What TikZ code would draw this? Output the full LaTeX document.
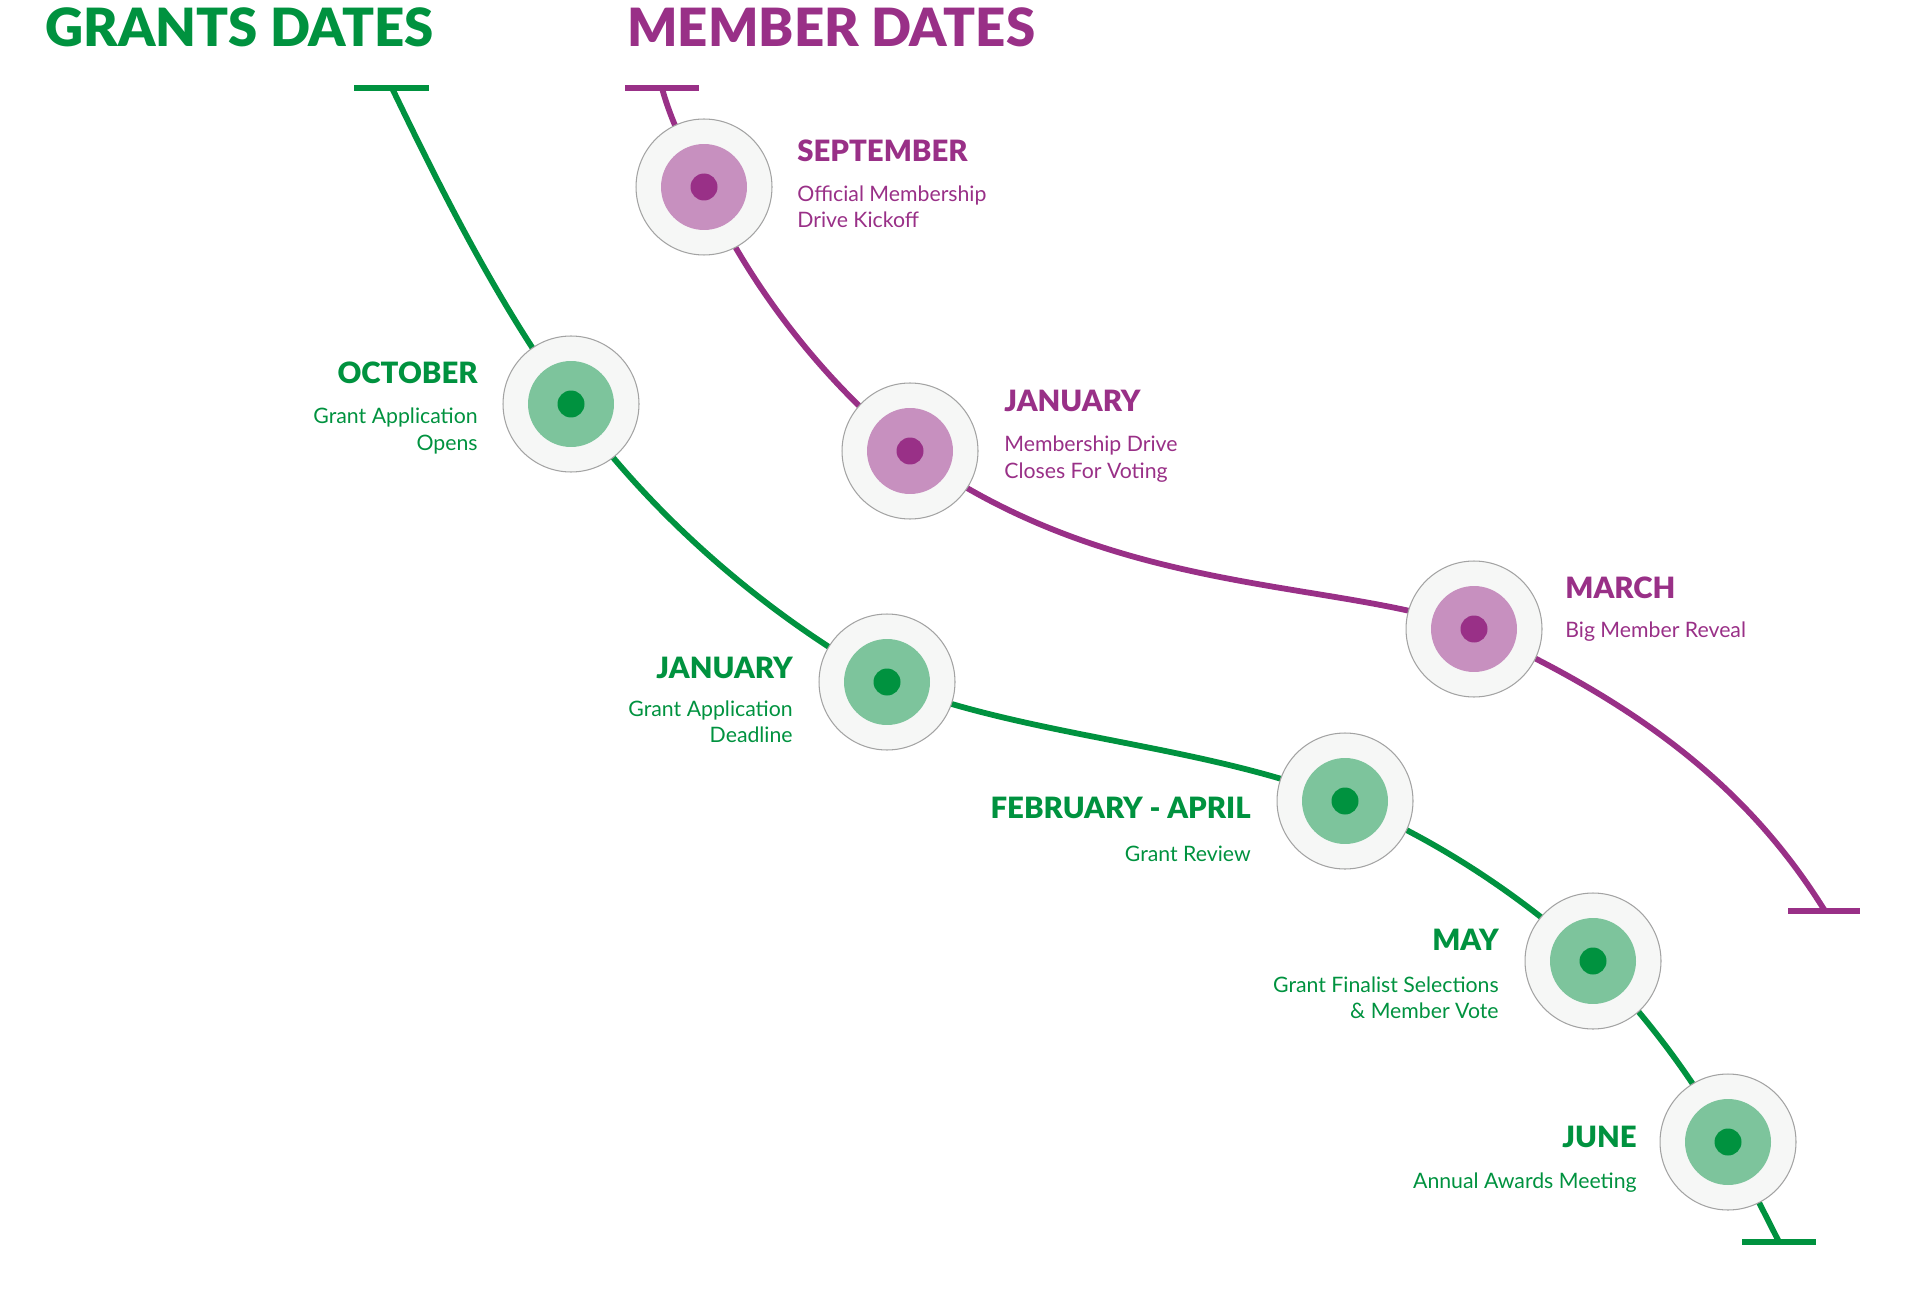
\documentclass[tikz,border=0pt]{standalone}
\usepackage{fontspec}
\setmainfont{Lato}
\newfontfamily\heavyfont{Lato Black}
\usetikzlibrary{backgrounds}
\definecolor{grantgreen}{HTML}{00923F}
\definecolor{grantmid}{HTML}{7DC49C}
\definecolor{memberpurple}{HTML}{993087}
\definecolor{membermid}{HTML}{C790BF}
\definecolor{ringfill}{HTML}{F6F7F6}
\definecolor{ringline}{HTML}{A3A3A3}

\begin{document}
\begin{tikzpicture}[x=0.02cm, y=-0.02cm,
  ring/.style={circle, draw=ringline, fill=ringfill, line width=0.6pt, minimum size=2.72cm, inner sep=0pt},
  headline/.style={font=\heavyfont\fontsize{30}{30}\selectfont, inner sep=0pt},
  mhead/.style={font=\heavyfont\fontsize{16.7}{16.7}\selectfont, inner sep=0pt},
  mbody/.style={font=\fontsize{12.1}{14.8}\selectfont, inner sep=0pt},
  track/.style={line width=3.3pt}]
\useasboundingbox (0,0) rectangle (1920,1307);

% titles
\node[headline, text=grantgreen, anchor=base west](granttitle) at (45,47) {GRANTS DATES};
\node[headline, text=memberpurple, anchor=base west](membertitle) at (627,47) {MEMBER DATES};

% track ends
\coordinate (gs) at (392,88);
\coordinate (ge) at (1779,1242);
\coordinate (ps) at (662,88);
\coordinate (pe) at (1825,911);

% date rings
\foreach \nm/\xy in {oct/{571,404}, jang/{887,682}, feb/{1345,801}, may/{1593,961}, june/{1728,1142}}
  {\node[ring](\nm) at (\xy) {};
   \fill[grantmid] (\nm) circle (0.86cm);
   \fill[grantgreen] (\nm) circle (0.27cm);}
\foreach \nm/\xy in {sept/{704,187}, janp/{910,451}, march/{1474,629}}
  {\node[ring](\nm) at (\xy) {};
   \fill[membermid] (\nm) circle (0.86cm);
   \fill[memberpurple] (\nm) circle (0.27cm);}

% grant labels (body nodes sit on their last line)
\node[mhead, text=grantgreen, anchor=base east](octhead) at (478,383) {OCTOBER};
\node[mbody, text=grantgreen, anchor=base east, align=right](octtext) at (478,450) {Grant Application\\Opens};
\node[mhead, text=grantgreen, anchor=base east](janghead) at (793,678) {JANUARY};
\node[mbody, text=grantgreen, anchor=base east, align=right](jangtext) at (793,742) {Grant Application\\Deadline};
\node[mhead, text=grantgreen, anchor=base east](febhead) at (1251,818) {FEBRUARY - APRIL};
\node[mbody, text=grantgreen, anchor=base east, align=right](febtext) at (1251,861) {Grant Review};
\node[mhead, text=grantgreen, anchor=base east](mayhead) at (1499,950) {MAY};
\node[mbody, text=grantgreen, anchor=base east, align=right](maytext) at (1499,1018) {Grant Finalist Selections\\\& Member Vote};
\node[mhead, text=grantgreen, anchor=base east](junehead) at (1637,1147) {JUNE};
\node[mbody, text=grantgreen, anchor=base east, align=right](junetext) at (1637,1188) {Annual Awards Meeting};

% member labels
\node[mhead, text=memberpurple, anchor=base west](septhead) at (797,162) {SEPTEMBER};
\node[mbody, text=memberpurple, anchor=base west, align=left](septtext) at (797,228) {Official Membership\\Drive Kickoff};
\node[mhead, text=memberpurple, anchor=base west](janphead) at (1004,412) {JANUARY};
\node[mbody, text=memberpurple, anchor=base west, align=left](janptext) at (1004,478) {Membership Drive\\Closes For Voting};
\node[mhead, text=memberpurple, anchor=base west](marchhead) at (1565,598) {MARCH};
\node[mbody, text=memberpurple, anchor=base west, align=left](marchtext) at (1565,637) {Big Member Reveal};

\begin{scope}[on background layer]
\draw[track, grantgreen] ([xshift=-0.76cm]gs) -- ([xshift=0.74cm]gs);
\draw[track, grantgreen] ([xshift=-0.74cm]ge) -- ([xshift=0.74cm]ge);
\draw[track, memberpurple] ([xshift=-0.74cm]ps) -- ([xshift=0.74cm]ps);
\draw[track, memberpurple] ([xshift=-0.74cm]pe) -- ([xshift=0.70cm]pe);
\draw[track, grantgreen] (gs) .. controls +(52,108) and +(-71,-97) .. (oct.center)
  .. controls +(82,113) and +(-122,-68) .. (jang.center)
  .. controls +(140,56) and +(-140,-57) .. (feb.center)
  .. controls +(92,39) and +(-74,-67) .. (may.center)
  .. controls +(52,54) and +(-36,-66) .. (june.center)
  .. controls +(16,31) and +(-12,-24) .. (ge);
\draw[track, memberpurple] (ps) .. controls +(9,34) and +(-15,-31) .. (sept.center)
  .. controls +(46,100) and +(-86,-69) .. (janp.center)
  .. controls +(202,147) and +(-141,-51) .. (march.center)
  .. controls +(182,82) and +(-69,-111) .. (pe);
\end{scope}
\end{tikzpicture}
\end{document}
